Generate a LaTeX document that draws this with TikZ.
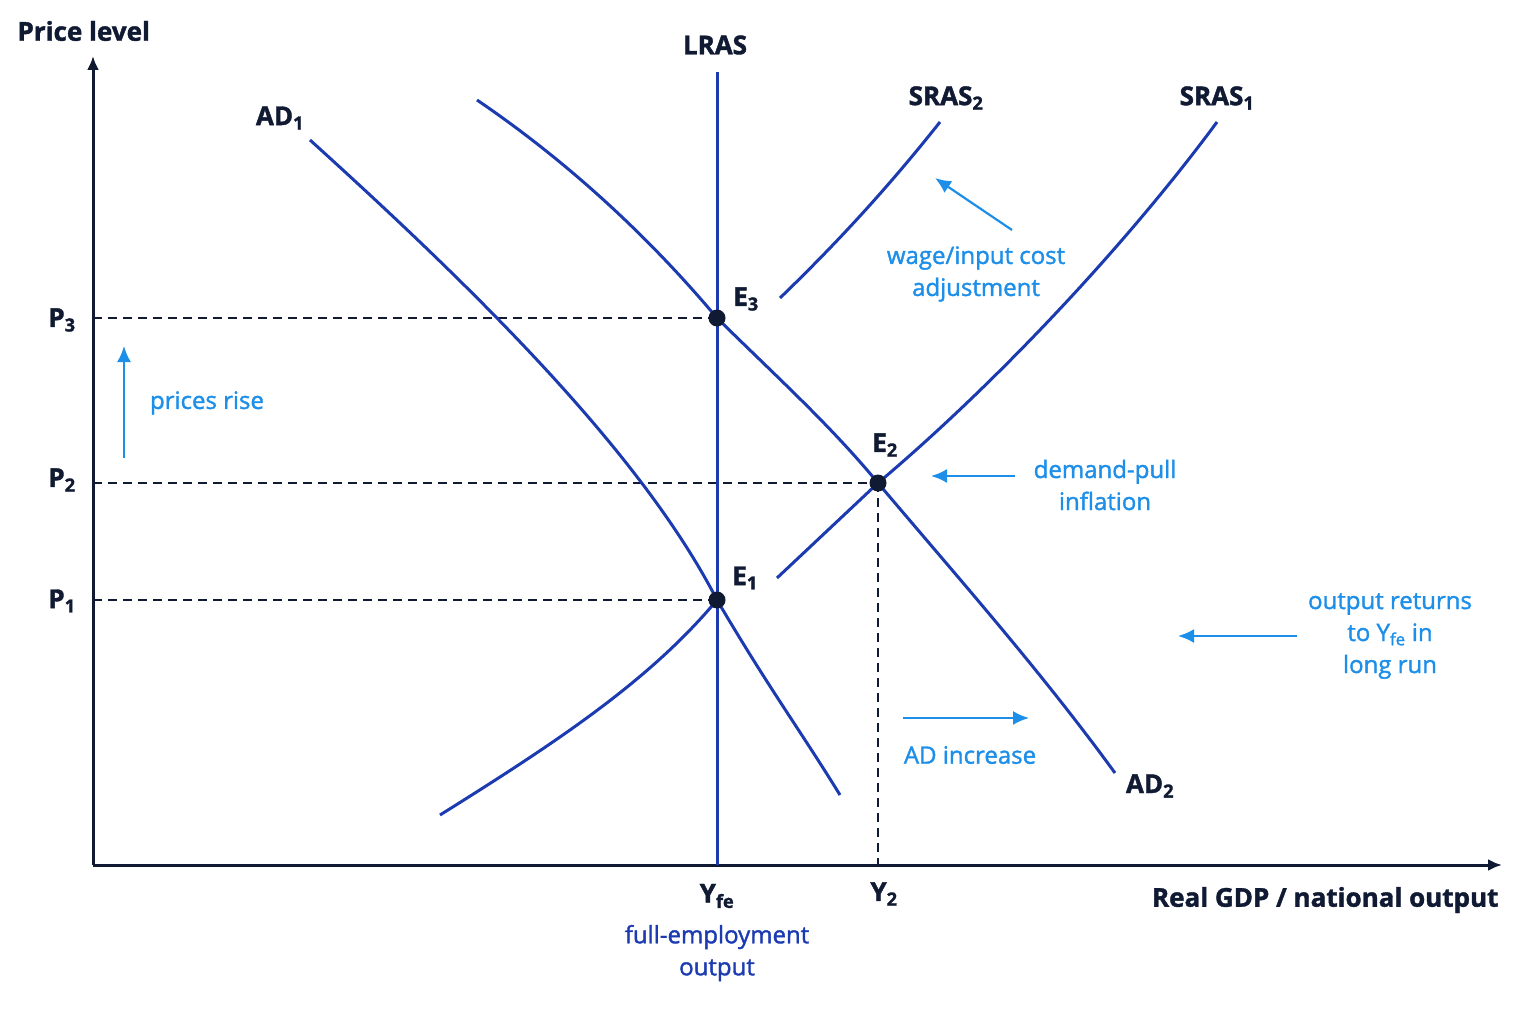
\documentclass[tikz,border=0pt]{standalone}
\usepackage{fontspec}
\setmainfont{Open Sans}[FakeBold=1.5]
\usetikzlibrary{arrows.meta}
\definecolor{curve}{HTML}{1C3BB0}
\definecolor{navy}{HTML}{111A33}
\definecolor{note}{HTML}{1E8FE8}
\begin{document}
\begin{tikzpicture}[x=1pt,y=-1pt,
  curvestyle/.style={curve,line width=3pt},
  axis/.style={navy,line width=3pt,-{Latex[length=14pt,width=12pt]}},
  guide/.style={navy,line width=2pt,dash pattern=on 9pt off 6pt},
  lab/.style={font=\fontsize{26}{29}\selectfont\bfseries,text=navy},
  nt/.style={font=\fontsize{24}{32}\selectfont,text=note,align=center},
  narr/.style={note,line width=2.2pt,-{Latex[length=16pt,width=14pt]}},
  pt/.style={circle,fill=navy,inner sep=0pt,minimum size=17pt}]
\useasboundingbox (0,0) rectangle (1536,1024);
\coordinate (O) at (93,865);
\coordinate (Ytop) at (93,56);
\coordinate (Xend) at (1502,865);
\draw[axis] (O) -- (Ytop);
\draw[axis] (O) -- (Xend);
\coordinate (E1) at (717,600);
\coordinate (E2) at (878,483);
\coordinate (E3) at (717,318);
\coordinate (P1) at (93,600);\coordinate (P2) at (93,483);\coordinate (P3) at (93,318);
\coordinate (Y2) at (878,865);
\draw[guide] (P3) -- (E3);
\draw[guide] (P2) -- (E2);
\draw[guide] (P1) -- (E1);
\draw[guide] (E2) -- (Y2);
\coordinate (L1) at (717,72);\coordinate (L2) at (717,865);
\draw[curvestyle] (L1) -- (L2);
\coordinate (a1) at (310,140);\coordinate (a2) at (840,795);
\draw[curvestyle] (a1) .. controls (470,285) and (640,450) .. (E1) .. controls (770,690) and (800,730) .. (a2);
\coordinate (b1) at (477,100);\coordinate (b2) at (1115,773);
\draw[curvestyle] (b1) .. controls (580,170) and (660,250) .. (E3) .. controls (780,380) and (830,425) .. (E2) .. controls (960,580) and (1040,670) .. (b2);
\coordinate (s1) at (440,815);\coordinate (s2) at (777,578);\coordinate (s3) at (1217,122);
\draw[curvestyle] (s1) .. controls (560,740) and (650,680) .. (E1);
\draw[curvestyle] (s2) -- (E2) .. controls (1000,380) and (1130,240) .. (s3);
\coordinate (t1) at (780,298);\coordinate (t2) at (940,122);
\draw[curvestyle] (t1) .. controls (840,240) and (890,185) .. (t2);
\node[pt] (e1) at (E1) {};\node[pt] (e2) at (E2) {};\node[pt] (e3) at (E3) {};
\node[lab,anchor=west] (pl) at (14,31) {Price level};
\node[lab] (lras) at (715,45) {LRAS};
\node[lab] (ad1) at (280,118) {AD\textsubscript{1}};
\node[lab] (ad2) at (1150,786) {AD\textsubscript{2}};
\node[lab] (sr2) at (946,98) {SRAS\textsubscript{2}};
\node[lab] (sr1) at (1217,98) {SRAS\textsubscript{1}};
\node[lab] (le3) at (746,299) {E\textsubscript{3}};
\node[lab] (le2) at (885,445) {E\textsubscript{2}};
\node[lab] (le1) at (745,578) {E\textsubscript{1}};
\node[lab] (lp3) at (62,320) {P\textsubscript{3}};
\node[lab] (lp2) at (62,480) {P\textsubscript{2}};
\node[lab] (lp1) at (62,601) {P\textsubscript{1}};
\node[lab] (lyfe) at (717,896) {Y\textsubscript{fe}};
\node[lab] (ly2) at (884,894) {Y\textsubscript{2}};
\node[lab,anchor=east] (xl) at (1502,900) {Real GDP / national output};
\node[nt,text=curve] (fe) at (717,953) {full-employment\\output};
\node[nt] (pr) at (207,403) {prices rise};
\node[nt] (wg) at (976,274) {wage/input cost\\adjustment};
\node[nt] (dp) at (1105,485) {demand-pull\\inflation};
\node[nt] (adi) at (970,755) {AD increase};
\node[nt] (or) at (1390,636) {output returns\\to Y\textsubscript{fe} in\\long run};
\coordinate (n1a) at (124,458);\coordinate (n1b) at (124,346);
\coordinate (n2a) at (1012,230);\coordinate (n2b) at (935,178);
\coordinate (n3a) at (1015,476);\coordinate (n3b) at (931,476);
\coordinate (n4a) at (903,718);\coordinate (n4b) at (1029,718);
\coordinate (n5a) at (1297,636);\coordinate (n5b) at (1178,636);
\draw[narr] (n1a) -- (n1b);
\draw[narr] (n2a) -- (n2b);
\draw[narr] (n3a) -- (n3b);
\draw[narr] (n4a) -- (n4b);
\draw[narr] (n5a) -- (n5b);
\end{tikzpicture}
\end{document}
